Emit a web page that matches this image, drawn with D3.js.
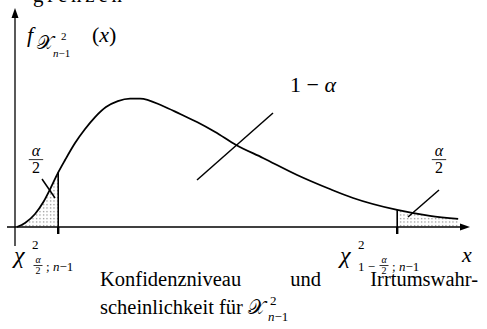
<!DOCTYPE html>
<html>
<head>
<meta charset="utf-8">
<script src="https://cdn.jsdelivr.net/npm/d3@7"></script>
<style>
  body { margin: 0; background: #fff; }
</style>
</head>
<body>
<div id="chart"></div>
<script>
// density curve (x in abstract units, y relative to the peak)
const curveX = [0.04, 0.22, 0.44, 0.62, 0.77, 0.95, 1.10, 1.32, 1.54, 1.76, 2.00, 2.26, 2.53, 2.75, 3.25, 3.63, 4.00, 4.40, 4.86, 5.45, 6.20, 6.92, 7.43, 8.40, 9.12, 9.74];
const curveY = [0, 0.031, 0.10, 0.19, 0.29, 0.42, 0.515, 0.646, 0.754, 0.846, 0.923, 0.969, 0.988, 0.988, 0.931, 0.869, 0.808, 0.731, 0.631, 0.531, 0.40, 0.292, 0.223, 0.131, 0.085, 0.062];
const critLow = 0.95;
const critHigh = 8.40;
const captionLine1 = ["Konfidenzniveau", "und", "Irrtumswahr-"];
const captionLine2 = "scheinlichkeit für";

const width = 487, height = 329;
const serif = "'Liberation Serif', 'DejaVu Serif', serif";
const points = curveX.map((x, i) => ({x: x, y: curveY[i]}));

const svg = d3.select("#chart").append("svg")
    .attr("width", width)
    .attr("height", height);

const x = d3.scaleLinear().domain([0, 10]).range([15, 470]);
const y = d3.scaleLinear().domain([0, 1]).range([227, 97]);

// dotted fill
const defs = svg.append("defs");
const pat = defs.append("pattern")
    .attr("id", "dots")
    .attr("patternUnits", "userSpaceOnUse")
    .attr("width", 3.5)
    .attr("height", 3.5);
pat.append("rect").attr("x", 1).attr("y", 1).attr("width", 1.1).attr("height", 1.1).attr("fill", "#666");

const area = d3.area()
    .x(d => x(d.x))
    .y0(y(0))
    .y1(d => y(d.y))
    .curve(d3.curveMonotoneX);

svg.append("path")
    .datum(points.filter(d => d.x <= critLow))
    .attr("d", area)
    .attr("fill", "url(#dots)");
svg.append("path")
    .datum(points.filter(d => d.x >= critHigh))
    .attr("d", area)
    .attr("fill", "url(#dots)");

// axes with arrows
svg.append("line")
    .attr("x1", 7).attr("x2", x(10) - 6)
    .attr("y1", y(0)).attr("y2", y(0))
    .attr("stroke", "#000").attr("stroke-width", 1.3);
svg.append("path")
    .attr("d", `M${x(10)},${y(0)} L${x(10) - 10},${y(0) - 3.5} L${x(10) - 10},${y(0) + 3.5} Z`)
    .attr("fill", "#000");
svg.append("line")
    .attr("x1", x(0)).attr("x2", x(0))
    .attr("y1", 246).attr("y2", 14)
    .attr("stroke", "#000").attr("stroke-width", 1.3);
svg.append("path")
    .attr("d", `M${x(0)},8 L${x(0) - 3.5},18 L${x(0) + 3.5},18 Z`)
    .attr("fill", "#000");

// critical values
[critLow, critHigh].forEach(c => {
    const p = points.find(d => d.x === c);
    svg.append("line")
        .attr("x1", x(c)).attr("x2", x(c))
        .attr("y1", y(p.y)).attr("y2", y(0))
        .attr("stroke", "#000").attr("stroke-width", 1.6);
    svg.append("line")
        .attr("x1", x(c)).attr("x2", x(c))
        .attr("y1", y(0)).attr("y2", y(0) + 7)
        .attr("stroke", "#000").attr("stroke-width", 2.4);
});

// curve
const line = d3.line()
    .x(d => x(d.x))
    .y(d => y(d.y))
    .curve(d3.curveMonotoneX);
svg.append("path")
    .datum(points)
    .attr("d", line)
    .attr("fill", "none")
    .attr("stroke", "#000")
    .attr("stroke-width", 1.8);

// pointer strokes
const pointers = [[42, 179, 55, 198], [197, 180, 273, 113], [439, 190, 408, 217]];
pointers.forEach(p => {
    svg.append("line")
        .attr("x1", p[0]).attr("y1", p[1]).attr("x2", p[2]).attr("y2", p[3])
        .attr("stroke", "#000").attr("stroke-width", 1.5);
});

function txt (tx, ty, s, size, italic) {
    return svg.append("text")
        .attr("x", tx).attr("y", ty)
        .attr("font-family", serif)
        .attr("font-size", size)
        .attr("font-style", italic ? "italic" : "normal")
        .attr("fill", "#000")
        .text(s);
}

function frac (cx, top, size) {
    txt(cx, top + size * 0.62, "α", size, true).attr("text-anchor", "middle");
    svg.append("line")
        .attr("x1", cx - size * 0.45).attr("x2", cx + size * 0.45)
        .attr("y1", top + size * 0.85).attr("y2", top + size * 0.85)
        .attr("stroke", "#000").attr("stroke-width", 0.8);
    txt(cx, top + size * 1.7, "2", size, false).attr("text-anchor", "middle");
}

function sub (tx, ty, size) {
    const t = txt(tx, ty, "", size, false);
    t.append("tspan").attr("font-style", "italic").text("n");
    t.append("tspan").text("−1");
    return t;
}

// cropped heading at the top
txt(33, 2, "grenzen", 21, false).attr("textLength", 89).attr("lengthAdjust", "spacing");

// y label
txt(27, 42, "f", 22, true);
txt(37, 49, "𝒳", 19, false);
txt(61, 40, "2", 11, false);
sub(53, 57, 11);
const fx = txt(92, 42, "(", 22, false);
fx.append("tspan").attr("font-style", "italic").text("x");
fx.append("tspan").text(")");

// 1 - alpha
const oma = txt(290, 92, "1 − ", 22, false);
oma.append("tspan").attr("font-style", "italic").text("α");

// alpha/2 labels
frac(36, 146, 16);
frac(439, 146, 16);

// left critical label
txt(14, 263, "χ", 24, true);
txt(32, 249, "2", 13, false);
frac(38, 257, 10);
const l1 = txt(46, 271, "; ", 13, false);
l1.append("tspan").attr("font-style", "italic").text("n");
l1.append("tspan").text("−1");

// right critical label
txt(340, 263, "χ", 24, true);
txt(358, 249, "2", 13, false);
txt(358, 271, "1 −", 13, false);
frac(384, 257, 10);
const r1 = txt(392, 271, "; ", 13, false);
r1.append("tspan").attr("font-style", "italic").text("n");
r1.append("tspan").text("−1");
txt(462, 262, "x", 22, true);

// caption, first line justified between 100 and 478
const capSize = 20.5;
const words = captionLine1.map(w => txt(0, 286, w, capSize, false));
const wl = words.map(t => t.node().getComputedTextLength());
const gap = (378 - d3.sum(wl)) / 2;
let cx = 100;
words.forEach((t, i) => { t.attr("x", cx); cx += wl[i] + gap; });

const l2 = txt(100, 314, captionLine2, capSize, false);
const l2w = l2.node().getComputedTextLength() + 5;
txt(100 + l2w, 314, "𝒳", 20, false);
txt(100 + l2w + 22, 305, "2", 13, false);
sub(100 + l2w + 20, 321, 13);
</script>
</body>
</html>
